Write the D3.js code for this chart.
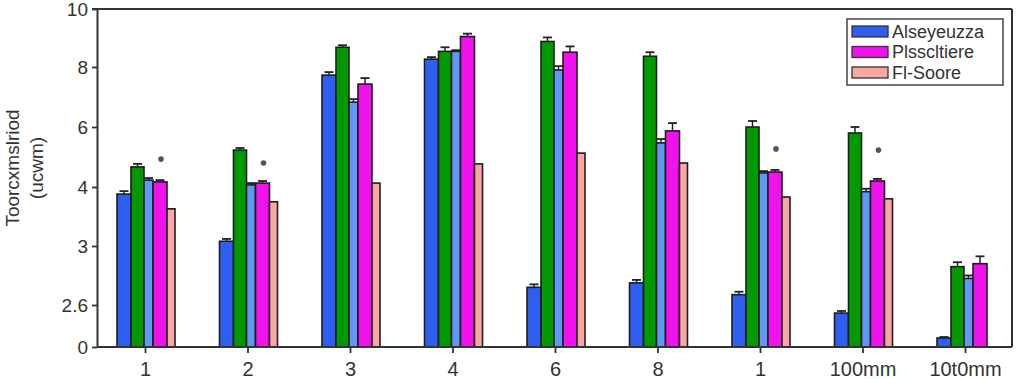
<!DOCTYPE html>
<html><head><meta charset="utf-8">
<script src="https://cdn.jsdelivr.net/npm/d3@7"></script>
<style>body{margin:0;background:#fff} svg{display:block}</style>
</head><body><svg id="chart" width="1024" height="379"></svg>
<script>
// ---------- data ----------
const categories = ["1","2","3","4","6","8","1","100mm","10t0mm"];
const seriesNames = ["Alseyeuzza","Series B","Series C","Plsscltiere","Fl-Soore"];
const legendSeries = [0, 3, 4];
const blueVals      = [3.88,3.08,7.73,8.27,2.72,2.75,2.67,2.10,0.56];
const greenVals     = [4.67,5.23,8.68,8.54,8.88,8.37,6.00,5.80,2.86];
const lightBlueVals = [4.23,4.07,6.83,8.54,7.90,5.47,4.47,3.92,2.78];
const magentaVals   = [4.17,4.13,7.43,9.05,8.51,5.87,4.50,4.20,2.88];
const pinkVals      = [3.63,3.75,4.13,4.77,5.13,4.80,3.83,3.80,null];
const blueErr       = [0.05,0.04,0.10,0.07,0.02,0.02,0.02,0.13,0.06];
const greenErr      = [0.10,0.07,0.07,0.14,0.14,0.14,0.20,0.20,0.03];
const lightBlueErr  = [0.07,0.06,0.10,0.04,0.13,0.13,0.06,0.05,0.02];
const magentaErr    = [0.06,0.07,0.20,0.10,0.20,0.26,0.07,0.07,0.05];
const pinkErr       = [null,null,null,null,null,null,null,null,null];
const dotGroups = [0,1,6,7];
const dotValues = [4.93,4.80,5.27,5.23];
const yTickValues = [0,2.6,3,4,6,8,10];
const yTickLabels = ["0","2.6","3","4","6","8","10"];
const yLabelLines = ["Toorcxmslriod","(ucwm)"];

// ---------- style / layout ----------
const seriesVals = [blueVals, greenVals, lightBlueVals, magentaVals, pinkVals];
const seriesErrs = [blueErr, greenErr, lightBlueErr, magentaErr, pinkErr];
const colors = ["#2f5ff0","#009a00","#6098f6","#f012ec","#f8a8a2"];
const barWidths = [14,13,9,14,8];
const groupStart = -28;
const axisColor = "#333";
const font = "'Liberation Sans', Arial, sans-serif";

const mLeft = 97, mRight = 1012, mTop = 9, mBottom = 347;
const svg = d3.select("#chart");

const x = d3.scalePoint().domain(d3.range(categories.length)).range([145, 965]);
const y = d3.scaleLinear().domain(yTickValues).range([347,305,246,187,127,67,mTop]);

// offsets inside group
const offsets = [];
let acc = groupStart;
barWidths.forEach(w => { offsets.push(acc); acc += w; });

// frame (top + right)
svg.append("line").attr("x1", mLeft-5).attr("x2", mRight).attr("y1", mTop).attr("y2", mTop)
  .attr("stroke", axisColor).attr("stroke-width", 2);
svg.append("line").attr("x1", mRight).attr("x2", mRight).attr("y1", mTop).attr("y2", mBottom)
  .attr("stroke", axisColor).attr("stroke-width", 2);

// bars
seriesVals.forEach((vals, s) => {
  const g = svg.append("g");
  vals.forEach((v, i) => {
    if (v == null) return;
    const bx = x(i) + offsets[s];
    g.append("rect")
      .attr("x", bx).attr("y", y(v))
      .attr("width", barWidths[s]).attr("height", y(0) - y(v))
      .attr("fill", colors[s]).attr("stroke", "#1c1c1c").attr("stroke-width", 1.6);
    const e = seriesErrs[s][i];
    if (e != null) {
      const cx = bx + barWidths[s] / 2;
      g.append("line").attr("x1", cx).attr("x2", cx).attr("y1", y(v)).attr("y2", y(v + e))
        .attr("stroke", "#222").attr("stroke-width", 1.5);
      g.append("line").attr("x1", cx - 4.5).attr("x2", cx + 4.5).attr("y1", y(v + e)).attr("y2", y(v + e))
        .attr("stroke", "#222").attr("stroke-width", 1.8);
    }
  });
});

// dots
dotGroups.forEach((gi, k) => {
  svg.append("circle")
    .attr("cx", x(gi) + offsets[3] + barWidths[3] / 2 + 1)
    .attr("cy", y(dotValues[k]))
    .attr("r", 2.8).attr("fill", "#555");
});

// axes
const yAxis = svg.append("g").attr("transform", `translate(${mLeft},0)`)
  .call(d3.axisLeft(y).tickValues(yTickValues).tickFormat((d, i) => yTickLabels[i])
    .tickSize(5).tickPadding(4).tickSizeOuter(0));
const xAxis = svg.append("g").attr("transform", `translate(0,${mBottom})`)
  .call(d3.axisBottom(x).tickFormat(i => categories[i]).tickSize(6).tickPadding(9).tickSizeOuter(0));
xAxis.select(".domain").attr("d", `M${mLeft},0H${mRight}`);
[yAxis, xAxis].forEach(a => {
  a.select(".domain").attr("stroke", axisColor).attr("stroke-width", 2);
  a.selectAll(".tick line").attr("stroke", axisColor).attr("stroke-width", 1.8);
  a.selectAll(".tick text").attr("fill", "#333").style("font-family", font);
});
yAxis.selectAll(".tick text").style("font-size", "19px");
xAxis.selectAll(".tick text").style("font-size", "20px");

// y label
const yl = svg.append("text")
  .attr("transform", "translate(0,168) rotate(-90)")
  .attr("text-anchor", "middle").attr("fill", "#333")
  .style("font-family", font).style("font-size", "19px");
yLabelLines.forEach((t, k) => {
  yl.append("tspan").attr("x", 0).attr("y", k === 0 ? 19 : 43).text(t);
});

// legend
const lg = svg.append("g");
lg.append("rect").attr("x", 847).attr("y", 19).attr("width", 156).attr("height", 66)
  .attr("fill", "#fff").attr("stroke", "#444").attr("stroke-width", 1.5);
legendSeries.forEach((s, k) => {
  const ry = 26 + k * 20.5;
  lg.append("rect").attr("x", 852).attr("y", ry).attr("width", 36).attr("height", 11)
    .attr("fill", colors[s]).attr("stroke", "#333").attr("stroke-width", 1.3);
  lg.append("text").attr("x", 892).attr("y", ry + 11.5).attr("fill", "#333")
    .style("font-family", font).style("font-size", "18px").text(seriesNames[s]);
});
</script>
</body></html>
